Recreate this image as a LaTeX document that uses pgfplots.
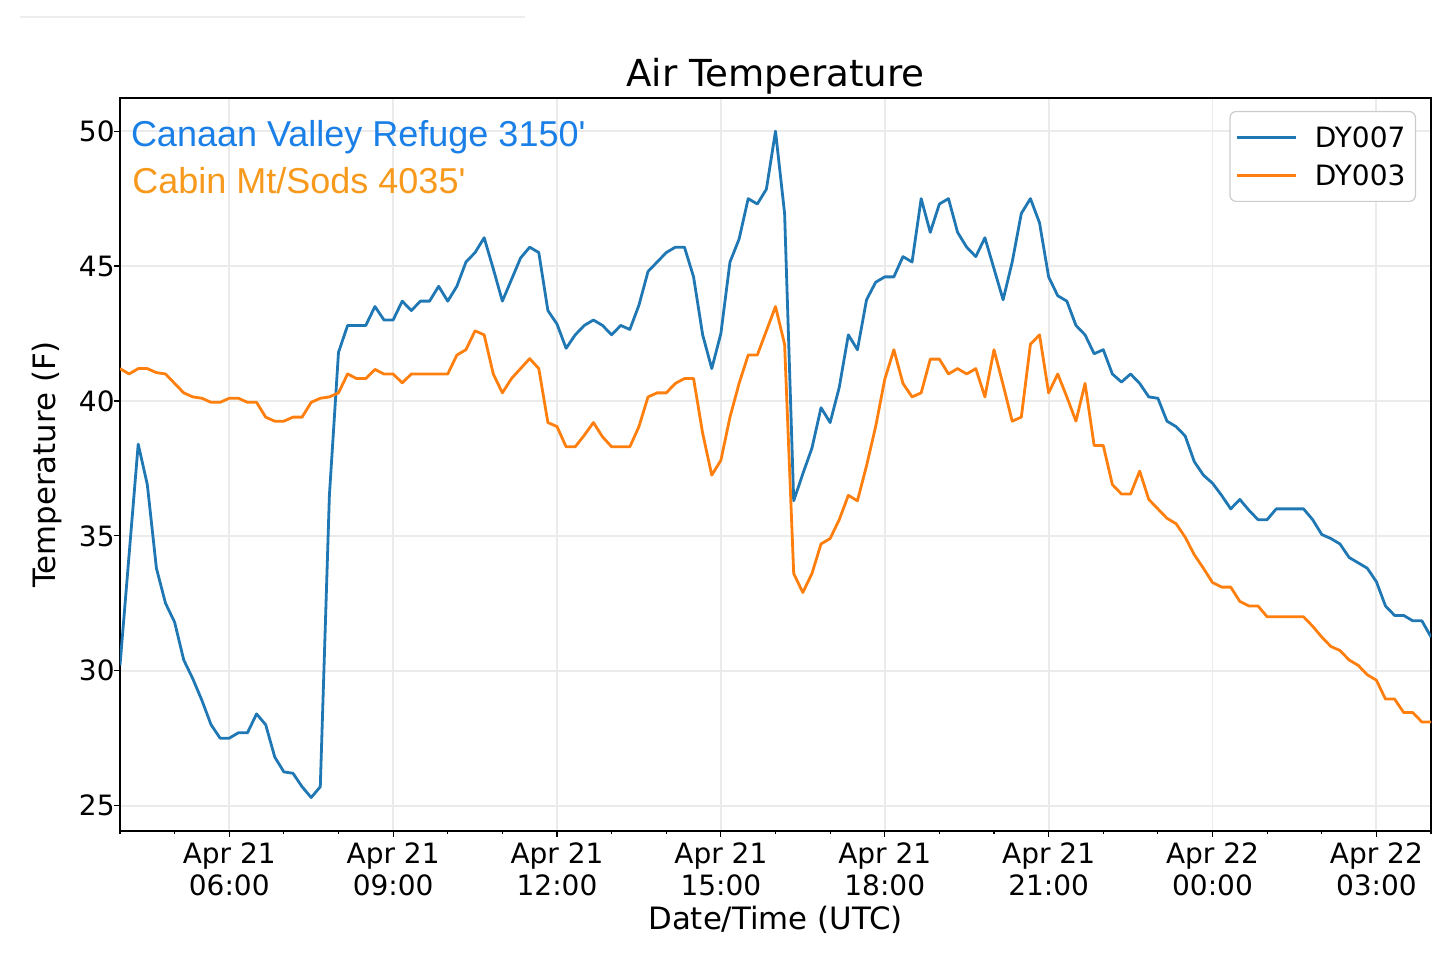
\documentclass[border=0pt]{standalone}
\usepackage{fontspec}
\setmainfont{DejaVu Sans}
\newfontfamily\annfont{Liberation Sans}
\usepackage{pgfplots}
\pgfplotsset{compat=1.18}
\usepackage{pgfplotstable}
\definecolor{tabblue}{HTML}{1F77B4}
\definecolor{taborange}{HTML}{FF7F0E}
\definecolor{annblue}{HTML}{1A7FE6}
\definecolor{annorange}{HTML}{F7991C}
\definecolor{gridgray}{HTML}{EBEBEB}

% t = minutes since Apr 21 04:00 UTC; b = DY007, o = DY003
\pgfplotstableread{
t b o
0 30.2 41.2
10 34.3 41.0
20 38.4 41.2
30 36.9 41.2
40 33.8 41.05
50 32.5 41.0
60 31.8 40.65
70 30.4 40.3
80 29.7 40.15
90 28.9 40.1
100 28.0 39.95
110 27.5 39.95
120 27.5 40.1
130 27.7 40.1
140 27.7 39.95
150 28.4 39.95
160 28.0 39.4
170 26.8 39.25
180 26.25 39.25
190 26.2 39.4
200 25.7 39.4
210 25.3 39.95
220 25.7 40.1
230 36.5 40.15
240 41.8 40.3
250 42.8 41.0
260 42.8 40.83
270 42.8 40.83
280 43.5 41.17
290 43.0 41.0
300 43.0 41.0
310 43.7 40.67
320 43.35 41.0
330 43.7 41.0
340 43.7 41.0
350 44.25 41.0
360 43.7 41.0
370 44.25 41.7
380 45.15 41.9
390 45.5 42.6
400 46.05 42.45
410 44.9 41.0
420 43.7 40.3
430 44.5 40.83
440 45.3 41.2
450 45.7 41.57
460 45.5 41.2
470 43.35 39.2
480 42.85 39.05
490 41.95 38.3
500 42.45 38.3
510 42.8 38.73
520 43.0 39.2
530 42.8 38.67
540 42.45 38.3
550 42.8 38.3
560 42.65 38.3
570 43.55 39.05
580 44.8 40.15
590 45.15 40.3
600 45.5 40.3
610 45.7 40.65
620 45.7 40.83
630 44.6 40.83
640 42.45 38.8
650 41.2 37.25
660 42.5 37.8
670 45.15 39.4
680 46.0 40.65
690 47.5 41.7
700 47.3 41.7
710 47.85 42.6
720 50.0 43.5
730 46.95 42.1
740 36.3 33.6
750 37.3 32.9
760 38.25 33.6
770 39.75 34.7
780 39.2 34.9
790 40.5 35.6
800 42.45 36.5
810 41.9 36.3
820 43.75 37.6
830 44.4 39.05
840 44.6 40.8
850 44.6 41.9
860 45.35 40.65
870 45.15 40.15
880 47.5 40.3
890 46.25 41.55
900 47.3 41.55
910 47.5 41.0
920 46.25 41.2
930 45.7 41.0
940 45.35 41.2
950 46.05 40.15
960 44.9 41.9
970 43.75 40.6
980 45.15 39.25
990 46.95 39.4
1000 47.5 42.1
1010 46.6 42.45
1020 44.6 40.3
1030 43.9 41.0
1040 43.7 40.15
1050 42.8 39.25
1060 42.45 40.65
1070 41.75 38.35
1080 41.9 38.35
1090 41.0 36.9
1100 40.7 36.55
1110 41.0 36.55
1120 40.65 37.4
1130 40.15 36.35
1140 40.1 36.0
1150 39.25 35.65
1160 39.05 35.45
1170 38.7 34.95
1180 37.75 34.3
1190 37.25 33.8
1200 36.95 33.27
1210 36.5 33.1
1220 36.0 33.1
1230 36.35 32.57
1240 35.95 32.4
1250 35.6 32.4
1260 35.6 32.0
1270 36.0 32.0
1280 36.0 32.0
1290 36.0 32.0
1300 36.0 32.0
1310 35.6 31.65
1320 35.05 31.25
1330 34.9 30.9
1340 34.7 30.75
1350 34.2 30.4
1360 34.0 30.2
1370 33.8 29.85
1380 33.3 29.65
1390 32.4 28.95
1400 32.05 28.95
1410 32.05 28.45
1420 31.85 28.45
1430 31.85 28.1
1440 31.25 28.1
}\data

\begin{document}
\begin{tikzpicture}
\begin{axis}[
  scale only axis, width=655.5pt, height=366.5pt,
  xmin=0, xmax=1440, ymin=24.06, ymax=51.23,
  clip mode=individual,
  axis line style={line width=0.8pt, black},
  tick pos=left, tick align=outside,
  major tick length=3pt, minor tick length=1.6pt,
  every tick/.style={black, line width=0.6pt},
  xtick={120,300,480,660,840,1020,1200,1380},
  xticklabels={{Apr 21\\06:00},{Apr 21\\09:00},{Apr 21\\12:00},{Apr 21\\15:00},{Apr 21\\18:00},{Apr 21\\21:00},{Apr 22\\00:00},{Apr 22\\03:00}},
  minor xtick={0,60,180,240,360,420,540,600,720,780,900,960,1080,1140,1260,1320,1440},
  ytick={25,30,35,40,45,50},
  yticklabels={25,30,35,40,45,50},
  grid=major, major grid style={gridgray, line width=0.9pt},
  xticklabel style={font=\fontsize{14}{16}\selectfont, align=center, anchor=north, inner sep=0pt, yshift=-2.5pt},
  yticklabel style={font=\fontsize{14}{16}\selectfont, anchor=east, inner sep=0pt, xshift=0.5pt},
  legend style={at={(1,1)}, anchor=north east, xshift=-7.5pt, yshift=-6.5pt,
    draw=black!20, line width=0.6pt, rounded corners=3pt, fill=white,
    font=\fontsize{14}{16}\selectfont,
    inner xsep=3pt, inner ysep=5.75pt, row sep=5pt,
    nodes={inner sep=2pt, text height=10.2pt, text depth=0pt},
    /tikz/every odd column/.append style={column sep=6.5pt}},
  legend cell align=left,
  legend image code/.code={\draw[#1, line width=1.4pt] (0pt,0pt) -- (29.5pt,0pt);},
]
\addplot[tabblue, line width=1.4pt, line join=round] table[x=t, y=b]{\data};
\addlegendentry{DY007}
\addplot[taborange, line width=1.4pt, line join=round] table[x=t, y=o]{\data};
\addlegendentry{DY003}
\coordinate (ll) at (rel axis cs:0,0);
\coordinate (ur) at (rel axis cs:1,1);
\coordinate (ul) at (rel axis cs:0,1);
\coordinate (tc) at (rel axis cs:0.5,1);
\coordinate (bc) at (rel axis cs:0.5,0);
\coordinate (ml) at (rel axis cs:0,0.5);
\end{axis}
\node[anchor=base, inner sep=0pt, font=\fontsize{18.6}{20}\selectfont] at ([yshift=5.5pt]tc) {Air Temperature};
\node[anchor=base, inner sep=0pt, font=\fontsize{15.4}{18}\selectfont] at ([yshift=-49.2pt]bc) {Date/Time (UTC)};
\node[anchor=base, rotate=90, inner sep=0pt, font=\fontsize{15.4}{18}\selectfont] at ([xshift=-32.3pt]ml) {Temperature (F)};
\node[anchor=base west, inner sep=0pt, text=annblue, font=\annfont\fontsize{18}{20}\selectfont] at ([xshift=5.3pt,yshift=-24.3pt]ul) {Canaan Valley Refuge 3150\textquotesingle};
\node[anchor=base west, inner sep=0pt, text=annorange, font=\annfont\fontsize{18}{20}\selectfont] at ([xshift=6pt,yshift=-47.7pt]ul) {Cabin Mt/Sods 4035\textquotesingle};
\draw[black!7, line width=0.6pt] ([xshift=-50pt,yshift=407pt]ll) -- ([xshift=202.5pt,yshift=407pt]ll);
\pgfresetboundingbox
\path[use as bounding box] ([xshift=-60pt,yshift=-62.5pt]ll) rectangle ([xshift=4.5pt,yshift=49pt]ur);
\end{tikzpicture}
\end{document}
